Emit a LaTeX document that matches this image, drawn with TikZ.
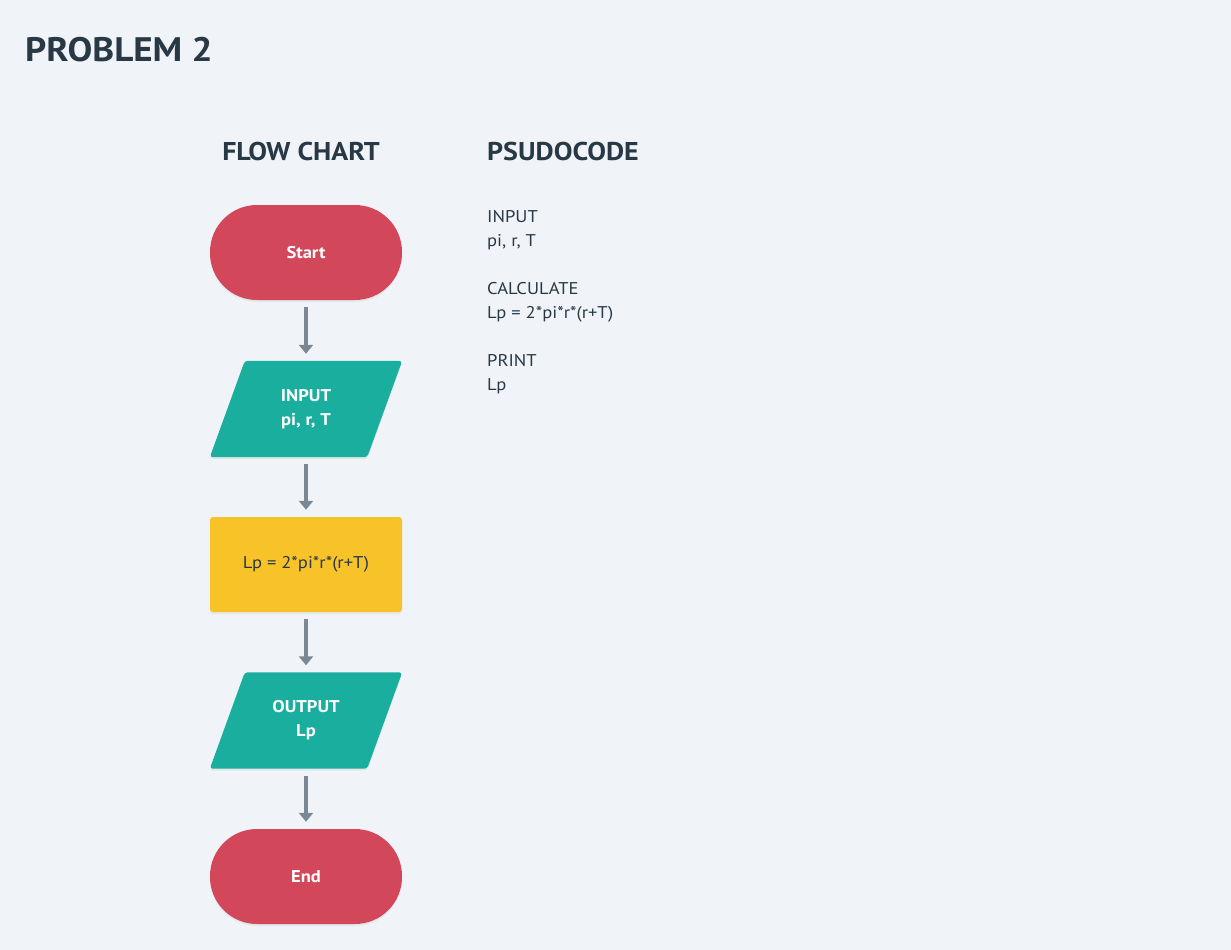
\documentclass[tikz,border=0pt]{standalone}
\usepackage{fontspec}
\setmainfont{PT Sans}[FakeStretch=1.09]
\usetikzlibrary{arrows.meta,shadows}
\definecolor{bg}{HTML}{F0F4F8}
\definecolor{ink}{HTML}{283845}
\definecolor{termred}{HTML}{D3475B}
\definecolor{ioteal}{HTML}{1AAE9F}
\definecolor{procyel}{HTML}{F8C328}
\definecolor{arrowgray}{HTML}{7A8795}
\tikzset{
  shade/.style={drop shadow={opacity=0.10,shadow xshift=0pt,shadow yshift=-2pt}},
  terminal/.style={rectangle,rounded corners=47pt,fill=termred,minimum width=192pt,minimum height=95pt,
    text=white,font=\fontsize{17}{24}\selectfont\bfseries,inner sep=0pt,shade},
  iobox/.style={rectangle,minimum width=192pt,minimum height=96pt,text=white,
    font=\fontsize{17}{24}\selectfont\bfseries,align=center,inner sep=0pt},
  procbox/.style={rectangle,rounded corners=3pt,fill=procyel,minimum width=192pt,minimum height=95pt,
    text=ink,font=\fontsize{17}{24}\selectfont,inner sep=0pt,shade},
  flowarrow/.style={draw=arrowgray,line width=4pt,-{Triangle[width=14pt,length=9pt]},
    shorten <=7pt,shorten >=7pt},
  heading/.style={text=ink,font=\fontsize{25.7}{30}\selectfont\bfseries,inner sep=0pt},
  code/.style={text=ink,font=\fontsize{17}{24}\selectfont,inner sep=0pt,anchor=base west},
}
\begin{document}
\begin{tikzpicture}[x=1pt,y=-1pt]
\fill[bg] (0,0) rectangle (1231,950);
\useasboundingbox (0,0) rectangle (1231,950);

\node[heading,anchor=base west,font=\fontsize{34}{40}\selectfont\bfseries] (title) at (25,62) {PROBLEM 2};
\node[heading,anchor=base] (fchead) at (301,160) {FLOW CHART};
\node[heading,anchor=base west] (pchead) at (487,160) {PSUDOCODE};

% flow chart
\node[terminal] (start) at (306,252.5) {Start};

\node[iobox] (input) at (306,409) {};
\fill[ioteal,rounded corners=3pt,shade] ([xshift=35pt]input.north west) -- (input.north east)
  -- ([xshift=-35pt]input.south east) -- (input.south west) -- cycle;
\node[iobox] (inputtext) at (input.center) {INPUT\\pi, r, T};

\node[procbox] (calc) at (306,564.5) {Lp = 2*pi*r*(r+T)};

\node[iobox] (output) at (306,720.5) {};
\fill[ioteal,rounded corners=3pt,shade] ([xshift=35pt]output.north west) -- (output.north east)
  -- ([xshift=-35pt]output.south east) -- (output.south west) -- cycle;
\node[iobox] (outputtext) at (output.center) {OUTPUT\\Lp};

\node[terminal] (end) at (306,876.5) {End};

\draw[flowarrow] (start.south) -- (input.north);
\draw[flowarrow] (input.south) -- (calc.north);
\draw[flowarrow] (calc.south) -- (output.north);
\draw[flowarrow] (output.south) -- (end.north);

% pseudocode
\node[code] (c1) at (487,222) {INPUT};
\node[code] (c2) at (487,246) {pi, r, T};
\node[code] (c3) at (487,294) {CALCULATE};
\node[code] (c4) at (487,318) {Lp = 2*pi*r*(r+T)};
\node[code] (c5) at (487,366) {PRINT};
\node[code] (c6) at (487,390) {Lp};
\end{tikzpicture}
\end{document}
